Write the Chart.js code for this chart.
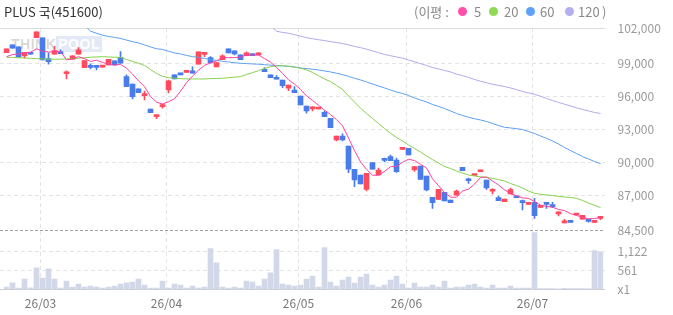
<!DOCTYPE html>
<html><head><meta charset="utf-8">
<script src="https://cdn.jsdelivr.net/npm/chart.js@4"></script>
<style>
html,body{margin:0;padding:0;background:#fff;}
#wrap{position:relative;width:673px;height:315px;overflow:hidden;font-family:'Noto Sans CJK KR','Noto Sans',sans-serif;}
canvas{position:absolute;left:0;}
.t{position:absolute;white-space:nowrap;}
.lg{position:absolute;white-space:nowrap;top:3px;font-size:13px;line-height:18px;color:#8a8a8a;}
.dot{position:absolute;top:7px;width:9px;height:9px;border-radius:50%;}
</style></head><body>
<div id="wrap">
<div class="t" style="left:11px;top:36px;font:bold 14px 'Liberation Sans',sans-serif;letter-spacing:0.5px;"><span style="color:rgba(140,140,140,0.35)">THINK</span><span style="color:#fff;background:rgba(200,212,238,0.5);padding:0 2px">POOL</span></div>
<canvas id="pc" width="673" height="315" style="top:0;width:673px;height:315px"></canvas>
<canvas id="vc" width="673" height="104" style="top:211px;width:673px;height:104px"></canvas>
<div class="t" style="left:4px;top:2px;font-size:13px;line-height:20px;color:#333">PLUS 국(451600)</div>
<div class="lg" style="left:414px">(이평 :</div>
<div class="dot" style="left:458px;background:#ff4fa8"></div>
<div class="lg" style="left:474px">5</div>
<div class="dot" style="left:489px;background:#8fd957"></div>
<div class="lg" style="left:504px">20</div>
<div class="dot" style="left:526px;background:#5da2f7"></div>
<div class="lg" style="left:540px">60</div>
<div class="dot" style="left:565px;background:#b4b0ef"></div>
<div class="lg" style="left:578px">120</div>
<div class="lg" style="left:602px">)</div>
</div>
<script>
const opens = [99960,100660,100480,99665,99830,101325,101300,99415,99815,100055,
 98045,99365,99815,98600,98650,98650,98650,98845,99210,99545,
 97780,97115,96665,96055,94845,94145,95060,96570,97935,98115,
 98170,98300,98910,99805,99510,98665,99325,100300,100115,99755,
 99690,99700,99755,98455,97935,97725,97480,96725,96570,96025,
 95115,94850,94845,94545,94000,92025,92390,91480,89365,88845,
 87545,89965,88845,90225,90510,90210,91180,91270,89300,89665,
 88755,86820,86635,87275,86575,87025,89545,88365,88800,89145,
 88390,87370,86800,86420,87135,86935,86365,86180,86365,85900,
 86230,86025,85310,84500,84560,85210,84845,84660,84545,84910];
const highs = [100300,100660,100480,99960,99840,101845,101300,99935,100545,100210,
 98300,99665,100415,99235,98935,98660,98680,99365,99210,100055,
 97935,97115,96665,96480,94845,94300,95300,97480,97935,98115,
 98200,98665,100025,99830,99600,99055,99755,100300,100115,99755,
 100025,99710,99935,98600,97935,97870,97480,97025,96870,96025,
 95115,95055,94880,94665,94000,92390,92575,91480,89365,88845,
 89000,89965,89480,90390,90665,90390,91250,91270,89600,89665,
 88755,86820,87545,87275,86575,87480,89545,88575,88840,89300,
 88390,87620,86935,86665,87665,86935,86575,86365,86725,85930,
 86300,86365,85510,84820,84570,85365,85180,84670,84725,85090];
const lows = [99960,100365,99545,99455,99800,101325,99300,98910,99815,99870,
 97570,99365,99815,98600,98480,98390,98640,98845,98845,99000,
 96870,95755,96325,95665,94510,93965,94910,96300,97570,97935,
 98160,98090,98910,99600,99000,98665,99325,99935,99755,99325,
 99690,99680,99755,98235,97690,97545,96780,96510,96325,95210,
 94455,94665,94830,94145,93145,91935,91935,89055,87780,88025,
 87390,89365,88845,90025,90145,89075,91160,90665,89165,88455,
 87390,85820,86635,86500,86330,87025,89235,88075,88790,89145,
 87525,87120,86510,86420,87135,86780,85665,86180,84910,85890,
 85820,85875,85120,84500,84530,85210,84845,84550,84545,84780];
const closes = [100300,100365,99545,99960,99815,101845,99300,99145,100145,99870,
 98090,99665,100210,99235,98630,98630,98670,99365,98845,99000,
 96870,95965,96325,96235,94510,94300,95090,97390,97570,97935,
 98185,98090,100025,99820,99055,99055,99665,99935,99845,99325,
 99935,99685,99935,98235,97690,97545,96965,97025,96325,95210,
 94665,94865,94860,94145,93145,92390,92025,89365,88390,88025,
 89000,89365,89300,90180,90145,89145,91235,90665,89600,88455,
 87480,86330,87545,86500,86330,87390,89235,88320,88825,89300,
 87665,87395,86510,86665,87525,86780,86330,86365,85145,85920,
 86180,85980,85345,84620,84540,85365,85180,84640,84725,85090];
const volumes = [69,197,39,307,48,635,337,605,307,39,
 247,69,158,69,98,69,39,69,98,158,
 197,218,307,128,39,39,247,39,158,128,
 39,98,39,69,1200,783,69,39,69,39,
 247,218,98,307,486,1170,158,128,98,128,
 307,396,69,1230,218,98,277,366,188,366,
 456,128,69,128,277,396,158,39,188,69,
 69,128,69,247,39,69,69,128,158,69,
 39,128,39,39,98,39,39,39,1683,28,
 25,30,22,35,27,24,30,26,1140,1110];
const ma5 = [99600,99780,99845,99960,100000,100305,100095,100015,100050,100060,
 99310,99385,99595,99415,99165,99275,99075,98905,98830,98900,
 98550,98010,97400,96880,95980,95465,95290,95505,95770,96455,
 97235,97835,98360,98810,99035,99210,99525,99505,99510,99565,
 99740,99745,99745,99425,99095,98620,98075,97490,97110,96615,
 96040,95620,95185,94750,94335,93880,93315,92215,91065,90040,
 89360,88830,88815,89175,89600,89625,90000,90275,90160,89820,
 89485,88505,87880,87260,86835,86820,87400,87555,88020,88615,
 88670,88300,87940,87505,87150,86975,86760,86735,86430,86110,
 85990,85920,85715,85610,85335,85170,85010,84870,84890,85000];
const ma20 = [99545,99525,99500,99480,99455,99415,99390,99365,99365,99365,
 99390,99415,99455,99510,99545,99570,99600,99570,99545,99525,
 99345,99165,99000,98800,98435,98070,97815,97690,97635,97600,
 97570,97570,97570,97570,97600,97615,97635,97690,97735,97780,
 97980,98145,98325,98525,98690,98755,98780,98725,98635,98545,
 98390,98165,97870,97570,97325,96980,96615,96025,95480,94910,
 94435,93980,93525,93070,92635,92255,91935,91575,91255,90935,
 90575,90255,89935,89620,89435,89210,89025,88845,88755,88690,
 88620,88545,88435,88300,88075,87890,87665,87390,87180,87100,
 87030,86980,86910,86845,86800,86730,86530,86300,86090,85890];
const ma60 = [null,null,null,null,null,null,null,null,null,null,null,null,null,
 102450,101910,101725,101545,101435,101345,101255,
 101100,100960,100845,100665,100480,100315,100255,100090,99935,99845,
 99710,99600,99525,99435,99345,99255,99180,99115,99045,99000,
 98965,98935,98910,98865,98825,98800,98755,98725,98665,98570,
 98510,98455,98390,98300,98210,98090,97965,97800,97635,97480,
 97300,97115,96935,96755,96570,96390,96255,96070,95845,95665,
 95480,95255,95070,94890,94665,94435,94255,94090,93955,93845,
 93710,93525,93345,93180,93120,93055,92980,92800,92620,92390,
 92180,91935,91665,91345,91070,90800,90525,90300,90070,89890];
const ma120 = [null,null,null,null,null,null,null,null,null,null,
 null,null,null,null,null,null,null,null,null,null,
 null,null,null,null,null,null,null,null,null,null,
 null,null,null,null,null,null,null,null,null,null,
 null,null,null,null,102450,101900,101800,101725,101590,101455,
 101325,101225,101135,101060,100960,100880,100790,100665,100525,100415,
 100280,100115,99955,99800,99680,99570,99455,99300,99135,98965,
 98800,98615,98480,98345,98210,98010,97870,97710,97525,97365,
 97225,97090,96980,96890,96755,96600,96435,96300,96180,96000,
 95800,95615,95435,95280,95115,94955,94800,94665,94525,94435];
const monthIdx = [6, 27, 49, 67, 88];
const monthLabels = ['26/03', '26/04', '26/05', '26/06', '26/07'];
const priceTicks = [87000, 90000, 93000, 96000, 99000];
const priceTopLabel = '102,000';
const priceBottomLabel = '84,500';
const volTicks = [0, 561, 1122];
const volTickLabels = ['x1', '561', '1,122'];

const Y_MIN = 83850, Y_MAX = 102200, V_MAX = 1683;
const UP = '#ff4b5c', DOWN = '#4a7bea', VOLC = '#d3d8e8';
const FONT = "'Noto Sans CJK KR', 'Noto Sans', sans-serif";
Chart.defaults.font.family = FONT;
Chart.defaults.animation = false;

const cats = closes.map((_, i) => i);
const candleColors = closes.map((c, i) => c >= opens[i] ? UP : DOWN);

function hline(ctx, x1, x2, y) { ctx.beginPath(); ctx.moveTo(x1, y); ctx.lineTo(x2, y); ctx.stroke(); }
function vline(ctx, x, y1, y2) { ctx.beginPath(); ctx.moveTo(x, y1); ctx.lineTo(x, y2); ctx.stroke(); }

const priceGrid = {
  id: 'priceGrid',
  beforeDatasetsDraw(chart) {
    const { ctx, chartArea: a, scales: { x, y } } = chart;
    ctx.save();
    ctx.lineWidth = 1;
    ctx.setLineDash([4, 3]);
    ctx.strokeStyle = '#e4e4e4';
    priceTicks.forEach(v => hline(ctx, 0, 605, Math.round(y.getPixelForValue(v)) + 0.5));
    monthIdx.forEach(i => vline(ctx, Math.floor(x.getPixelForValue(i) - 2.5) + 0.5, a.top, 289.5));
    ctx.setLineDash([]);
    ctx.strokeStyle = '#dcdcdc';
    hline(ctx, 0, 605, a.top + 0.5);
    ctx.setLineDash([3, 2]);
    ctx.strokeStyle = '#a0a0a0';
    hline(ctx, 0, 605, a.bottom + 0.5);
    ctx.restore();
  }
};

const volGrid = {
  id: 'volGrid',
  beforeDatasetsDraw(chart) {
    const { ctx, chartArea: a, scales: { x, y } } = chart;
    ctx.save();
    ctx.lineWidth = 1;
    ctx.setLineDash([4, 3]);
    ctx.strokeStyle = '#e4e4e4';
    [561, 1122].forEach(v => hline(ctx, 0, 605, Math.round(y.getPixelForValue(v)) + 0.5));
    ctx.setLineDash([]);
    ctx.strokeStyle = '#cccccc';
    hline(ctx, 0, 605, a.bottom);
    ctx.restore();
  },
  afterDraw(chart) {
    const { ctx, scales: { x } } = chart;
    ctx.save();
    ctx.font = '12px ' + FONT;
    ctx.fillStyle = '#777';
    ctx.textAlign = 'center';
    ctx.textBaseline = 'middle';
    monthIdx.forEach((i, k) => ctx.fillText(monthLabels[k], Math.floor(x.getPixelForValue(i) - 2.5) + 0.5, 92.2));
    ctx.restore();
  }
};

function lineDs(label, data, color) {
  return { type: 'line', label, data, borderColor: color, borderWidth: 1, pointRadius: 0, tension: 0, order: 1 };
}

new Chart(document.getElementById('pc'), {
  type: 'bar',
  data: {
    labels: cats,
    datasets: [
      lineDs('5', ma5, '#ff3fa0'),
      lineDs('20', ma20, '#86d24a'),
      lineDs('60', ma60, '#5aa0f5'),
      lineDs('120', ma120, '#b0a9ec'),
      { type: 'bar', label: 'body', data: opens.map((o, i) => [o, closes[i]]), backgroundColor: candleColors,
        barThickness: 5, minBarLength: 2, grouped: false, order: 2 },
      { type: 'bar', label: 'wick', data: lows.map((l, i) => [l, highs[i]]), backgroundColor: candleColors,
        barThickness: 1, grouped: false, order: 3 }
    ]
  },
  options: {
    responsive: false, animation: false, events: [],
    layout: { padding: { left: 3.5, right: 0, top: 28, bottom: 85 } },
    plugins: { legend: { display: false }, tooltip: { enabled: false } },
    scales: {
      x: { type: 'category', offset: true, display: false },
      y: {
        position: 'right', min: Y_MIN, max: Y_MAX,
        afterFit(s) { s.width = 69.5; },
        afterBuildTicks(s) { s.ticks = [Y_MIN, ...priceTicks, Y_MAX].map(v => ({ value: v })); },
        grid: { display: false, drawTicks: false },
        border: { display: false },
        ticks: {
          autoSkip: false, padding: 14, color: '#9a9a9a', font: { size: 12 },
          callback: v => v === Y_MIN ? priceBottomLabel : (v === Y_MAX ? priceTopLabel : v.toLocaleString('en-US'))
        }
      }
    }
  },
  plugins: [priceGrid]
});

new Chart(document.getElementById('vc'), {
  type: 'bar',
  data: {
    labels: cats,
    datasets: [{ label: 'vol', data: volumes, backgroundColor: VOLC, barThickness: 5 }]
  },
  options: {
    responsive: false, animation: false, events: [],
    layout: { padding: { left: 3.5, right: 0, top: 21, bottom: 25.5 } },
    plugins: { legend: { display: false }, tooltip: { enabled: false } },
    scales: {
      x: { type: 'category', offset: true, display: false },
      y: {
        position: 'right', min: 0, max: V_MAX,
        afterFit(s) { s.width = 69.5; },
        afterBuildTicks(s) { s.ticks = volTicks.map(v => ({ value: v })); },
        grid: { display: false, drawTicks: false },
        border: { display: false },
        ticks: {
          autoSkip: false, padding: 14, color: '#9a9a9a', font: { size: 12 },
          callback: v => volTickLabels[volTicks.indexOf(v)]
        }
      }
    }
  },
  plugins: [volGrid]
});
</script>
</body></html>
